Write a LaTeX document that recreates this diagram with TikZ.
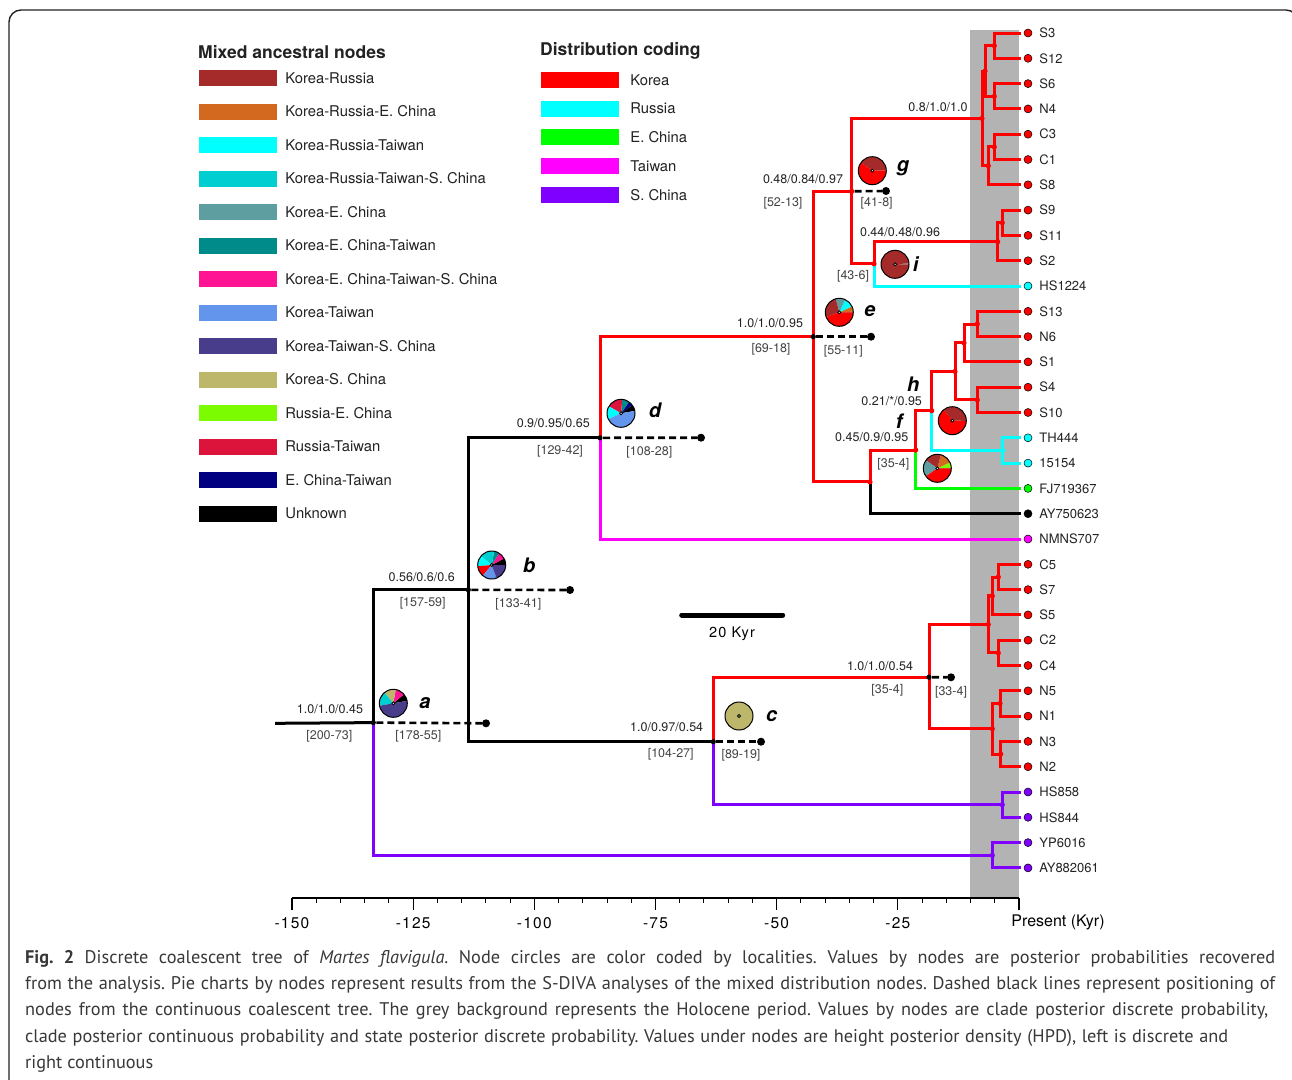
\documentclass[tikz,border=0pt]{standalone}
\usepackage{fontspec}
\setmainfont{TeX Gyre Heros}
\newfontfamily\capfont{PT Sans}
\newfontfamily\axfont[LetterSpace=8]{TeX Gyre Heros}
\usetikzlibrary{positioning}

\definecolor{kru}{HTML}{A52A2A}
\definecolor{krue}{HTML}{D2691E}
\definecolor{krut}{HTML}{00FFFF}
\definecolor{kruts}{HTML}{00CED1}
\definecolor{ke}{HTML}{5F9EA0}
\definecolor{ket}{HTML}{008B8B}
\definecolor{kets}{HTML}{FF1493}
\definecolor{kt}{HTML}{6495ED}
\definecolor{kts}{HTML}{483D8B}
\definecolor{ks}{HTML}{BDB76B}
\definecolor{rue}{HTML}{7CFC00}
\definecolor{rut}{HTML}{DC143C}
\definecolor{et}{HTML}{000080}
\definecolor{korea}{HTML}{FF0000}
\definecolor{russia}{HTML}{00FFFF}
\definecolor{echina}{HTML}{00FF00}
\definecolor{taiwan}{HTML}{FF00FF}
\definecolor{schina}{HTML}{8000FF}
\definecolor{holo}{HTML}{B3B3B3}
\definecolor{ink}{HTML}{222222}

\tikzset{
  br/.style={line width=3pt, line cap=rect},
  tipbr/.style={line width=3pt, line cap=rect, shorten >=4pt},
  cdash/.style={line width=2.6pt, dash pattern=on 7pt off 4pt, black},
  enddot/.style={circle, fill=black, inner sep=0pt, minimum size=8pt},
  tipdot/.style={circle, draw=black, line width=0.5pt, inner sep=0pt, minimum size=8pt},
  tiplab/.style={font=\fontsize{13}{15}\selectfont, text=ink, inner sep=0pt, anchor=west},
  pp/.style={font=\fontsize{12.5}{14}\selectfont, text=ink, inner sep=0pt},
  hpd/.style={font=\fontsize{12.5}{14}\selectfont, text=ink!85, inner sep=0pt},
  plet/.style={font=\fontsize{20}{22}\selectfont\bfseries\itshape, inner sep=0pt},
  swatch/.style={rectangle, inner sep=0pt, minimum width=78pt, minimum height=16pt},
  legtext/.style={font=\fontsize{14.8}{16}\selectfont, text=ink, inner sep=0pt},
  legtitle/.style={font=\fontsize{17.5}{19}\selectfont\bfseries, text=ink, inner sep=0pt, anchor=west},
  axislab/.style={font=\axfont\fontsize{15.5}{17}\selectfont, text=black, inner sep=0pt},
  capline/.style={font=\capfont\fontsize{18.3}{20}\selectfont\frenchspacing, text=ink!90, inner sep=0pt, anchor=base west},
  pieedge/.style={line width=1pt, black}
}

\newcommand{\piechart}[2]{%
  \foreach \pa/\pb/\pc in {#2}{\fill[\pc] (#1) -- ++(\pa:14pt) arc[start angle=\pa, end angle=\pb, radius=14pt] -- cycle;}
  \draw[pieedge] (#1) circle[radius=14pt];
  \draw[line width=0.8pt, fill=white] (#1) circle[radius=1.5pt];
}

\begin{document}
\begin{tikzpicture}[x=1pt,y=-1pt]
  \useasboundingbox (0,0) rectangle (1292,1079);
  \clip (0,0) rectangle (1292,1079);
  \draw[line width=1.4pt, ink, rounded corners=12pt] (9,1100) -- (9,10) -- (1298,10) -- (1298,1100);

  % holocene band and time axis
  \fill[holo] (970,30) rectangle (1019,898);
  \draw[line width=1.2pt] (292,898) -- (1019,898);
  \foreach \t in {0,5,...,150} \draw[line width=1pt] (1019-4.847*\t,898) -- ++(0,5);
  \foreach \t in {0,25,...,150} \draw[line width=1.2pt] (1019-4.847*\t,898) -- ++(0,12);
  \foreach \t in {150,125,100,75,50,25} \node[axislab] at (1019-4.847*\t,923) {-\t};
  \node[axislab, font=\fontsize{16}{18}\selectfont] at (1058,922) {Present (Kyr)};

  % legends
  \node[legtitle] at (198,52) {Mixed ancestral nodes};
  \foreach \col/\txt [count=\k from 0] in {kru/Korea-Russia, krue/Korea-Russia-E. China,
      krut/Korea-Russia-Taiwan, kruts/Korea-Russia-Taiwan-S. China, ke/Korea-E. China,
      ket/Korea-E. China-Taiwan, kets/Korea-E. China-Taiwan-S. China, kt/Korea-Taiwan,
      kts/Korea-Taiwan-S. China, ks/Korea-S. China, rue/Russia-E. China, rut/Russia-Taiwan,
      et/E. China-Taiwan, black/Unknown}{
    \node[swatch, fill=\col] (m\k) at (238,78+33.5*\k) {};
    \node[legtext, right=8pt of m\k] {\txt};
  }
  \node[legtitle] at (540,51) {Distribution coding};
  \foreach \col/\txt [count=\k from 0] in {korea/Korea, russia/Russia, echina/E. China,
      taiwan/Taiwan, schina/S. China}{
    \node[swatch, fill=\col] (dc\k) at (580,80+28.7*\k) {};
    \node[legtext, right=11pt of dc\k] {\txt};
  }

  % tips
  \foreach \n/\t/\c [count=\i from 0] in {S3/S3/korea, S12/S12/korea, S6/S6/korea, N4/N4/korea,
      C3/C3/korea, C1/C1/korea, S8/S8/korea, S9/S9/korea, S11/S11/korea, S2/S2/korea,
      HS1224/HS1224/russia, S13/S13/korea, N6/N6/korea, S1/S1/korea, S4/S4/korea, S10/S10/korea,
      TH444/TH444/russia, t15154/15154/russia, FJ719367/FJ719367/echina, AY750623/AY750623/black,
      NMNS707/NMNS707/taiwan, C5/C5/korea, S7/S7/korea, S5/S5/korea, C2/C2/korea, C4/C4/korea,
      N5/N5/korea, N1/N1/korea, N3/N3/korea, N2/N2/korea, HS858/HS858/schina, HS844/HS844/schina,
      YP6016/YP6016/schina, AY882061/AY882061/schina}{
    \node[tipdot, fill=\c] (\n) at (1028,33+25.3*\i) {};
    \node[tiplab, right=7pt of \n] {\t};
  }

  % internal nodes
  \coordinate (root) at (276.7,723.3);
  \coordinate (a) at (373.3,722.6);
  \coordinate (b) at (468.3,589.8);
  \coordinate (c) at (713.3,741.7);
  \coordinate (d) at (600,437.8);
  \coordinate (e) at (813.3,336.7);
  \coordinate (g) at (851.7,191.3);
  \coordinate (i) at (874,263.8);
  \coordinate (fp) at (870,481.9);
  \coordinate (f) at (915.7,450.1);
  \coordinate (h) at (931.7,410.7);
  \coordinate (cc) at (929,677.2);
  \coordinate (n1) at (994.3,45.7);
  \coordinate (n2) at (994.3,96.3);
  \coordinate (n3) at (985,71);
  \coordinate (n4) at (994.3,146.9);
  \coordinate (n5) at (988.3,165.8);
  \coordinate (n6) at (982,118.4);
  \coordinate (n7) at (1002.3,222.8);
  \coordinate (n8) at (997.7,241.7);
  \coordinate (n9) at (977.3,324);
  \coordinate (n10) at (964,342.9);
  \coordinate (n11) at (955,371.4);
  \coordinate (n12) at (1002.7,450.5);
  \coordinate (n13) at (977.3,399.9);
  \coordinate (n14) at (998.3,577);
  \coordinate (n15) at (992.3,595.9);
  \coordinate (n16) at (988.3,624.4);
  \coordinate (n17) at (998.3,652.9);
  \coordinate (n18) at (1000,703.5);
  \coordinate (n19) at (992.3,728.8);
  \coordinate (n18b) at (1000.7,754.1);
  \coordinate (n20) at (1002.3,804.7);
  \coordinate (n21) at (992.3,855.3);

  % branches
  \draw[br] (root) -- (a);
  \foreach \p/\q/\c in {a/b/black, b/d/black, b/c/black, a/n21/schina, c/n20/schina, h/n12/russia,
      d/e/korea, e/g/korea, e/fp/korea, g/n6/korea, g/i/korea, i/n8/korea, n8/n7/korea,
      n6/n3/korea, n6/n5/korea, n3/n1/korea, n3/n2/korea, n5/n4/korea,
      fp/f/korea, f/h/korea, h/n11/korea, n11/n10/korea, n11/n13/korea, n10/n9/korea,
      c/cc/korea, cc/n16/korea, cc/n19/korea, n16/n15/korea, n16/n17/korea, n15/n14/korea,
      n19/n18/korea, n19/n18b/korea}
    \draw[br, \c] (\p) |- (\q);
  \foreach \p/\q/\c in {n1/S3/korea, n1/S12/korea, n2/S6/korea, n2/N4/korea, n4/C3/korea,
      n4/C1/korea, n5/S8/korea, n7/S9/korea, n7/S11/korea, n8/S2/korea, i/HS1224/russia,
      n9/S13/korea, n9/N6/korea, n10/S1/korea, n13/S4/korea, n13/S10/korea,
      n12/TH444/russia, n12/t15154/russia, f/FJ719367/echina, fp/AY750623/black,
      d/NMNS707/taiwan, n14/C5/korea, n14/S7/korea, n15/S5/korea, n17/C2/korea, n17/C4/korea,
      n18/N5/korea, n18/N1/korea, n18b/N3/korea, n18b/N2/korea,
      n20/HS858/schina, n20/HS844/schina, n21/YP6016/schina, n21/AY882061/schina}
    \draw[tipbr, \c] (\p) |- (\q);
  \foreach \p/\c in {a/black, b/black, c/black, d/black, e/black, cc/black, g/korea, i/korea,
      fp/korea, f/korea, h/korea, n1/korea, n2/korea, n3/korea, n4/korea, n5/korea, n6/korea,
      n7/korea, n8/korea, n9/korea, n10/korea, n11/korea, n12/russia, n13/korea, n14/korea,
      n15/korea, n16/korea, n17/korea, n18/korea, n18b/korea, n19/korea, n20/schina, n21/schina}
    \fill[\c] (\p) circle[radius=2.6pt];

  % continuous tree positions
  \node[enddot] (ad) at (486,723.3) {};
  \node[enddot] (bd) at (570,590) {};
  \node[enddot] (dd) at (701,437.7) {};
  \node[enddot] (ed) at (871,336.7) {};
  \node[enddot] (gd) at (886,191) {};
  \node[enddot] (cd) at (761,741.7) {};
  \node[enddot] (ccd) at (951,677.3) {};
  \foreach \p in {a,b,d,e,g,c,cc} \draw[cdash] ([xshift=3pt]\p) -- (\p d);

  % node values
  \node[pp] at (330,709.3) {1.0/1.0/0.45};
  \node[hpd] at (329.3,736.7) {[200-73]};
  \node[hpd] at (418.3,736.7) {[178-55]};
  \node[pp] at (421.7,576.7) {0.56/0.6/0.6};
  \node[hpd] at (422.7,603.3) {[157-59]};
  \node[hpd] at (518.3,604) {[133-41]};
  \node[pp] at (553.3,423.3) {0.9/0.95/0.65};
  \node[hpd] at (560,451.7) {[129-42]};
  \node[hpd] at (649.3,452.7) {[108-28]};
  \node[pp] at (770,323.3) {1.0/1.0/0.95};
  \node[hpd] at (771,349.3) {[69-18]};
  \node[hpd] at (843.3,351) {[55-11]};
  \node[pp] at (803,179) {0.48/0.84/0.97};
  \node[hpd] at (783,203) {[52-13]};
  \node[hpd] at (876.7,203) {[41-8]};
  \node[pp] at (900,231.7) {0.44/0.48/0.96};
  \node[hpd] at (853,276) {[43-6]};
  \node[pp] at (938,107) {0.8/1.0/1.0};
  \node[pp] at (891.7,401.5) {0.21/*/0.95};
  \node[pp] at (871.7,437.5) {0.45/0.9/0.95};
  \node[hpd] at (893.3,464.3) {[35-4]};
  \node[pp] at (666.7,727.3) {1.0/0.97/0.54};
  \node[hpd] at (670.7,754) {[104-27]};
  \node[hpd] at (741,755) {[89-19]};
  \node[pp] at (880,666) {1.0/1.0/0.54};
  \node[hpd] at (887.3,690) {[35-4]};
  \node[hpd] at (951,692.7) {[33-4]};

  % pies
  \piechart{393.3,703.3}{10/40/black, 40/80/kets, 80/130/ks, 130/190/kruts, 190/370/kts}
  \piechart{491.7,565}{0/28/black, 28/58/kets, 58/80/ket, 80/140/kruts, 140/185/krut, 185/230/korea, 230/290/kt, 290/360/kts}
  \piechart{621,413.3}{10/35/black, 35/55/et, 55/85/ket, 85/150/rut, 150/205/krut, 205/370/kt}
  \piechart{839.3,312.3}{0/3/black, 3/25/krue, 25/65/krut, 65/105/ke, 105/200/kru, 200/360/korea}
  \piechart{872.3,170.7}{0/145/kru, 145/360/korea}
  \piechart{895,264.3}{0/4/ke, 4/360/kru}
  \piechart{952.3,420.7}{0/3/black, 3/128/kru, 128/360/korea}
  \piechart{937.3,468.3}{0/3/black, 3/25/rue, 25/75/krue, 75/145/kru, 145/215/ke, 215/360/korea}
  \piechart{739,716}{0/360/ks}
  \foreach \l/\x/\y in {a/425/702.7, b/529.3/565, d/655/410, e/870/310.7, g/903/168,
      i/915.7/264.3, h/913.3/384.5, f/899.3/421.5, c/771.7/716}
    \node[plet] at (\x,\y) {\l};

  % scale bar
  \coordinate (sb1) at (681.7,615);
  \coordinate (sb2) at (782.7,615);
  \draw[line width=5pt, line cap=round] (sb1) -- (sb2);
  \node[axislab, font=\axfont\fontsize{14.5}{16}\selectfont] at (732,633.3) {20 Kyr};

  % caption
  \node[capline] at (25,963) {\makebox[1250pt][s]{\textbf{Fig. 2} Discrete coalescent tree of \textit{Martes flavigula}. Node circles are color coded by localities. Values by nodes are posterior probabilities recovered}};
  \node[capline] at (25,989) {\makebox[1250pt][s]{from the analysis. Pie charts by nodes represent results from the S-DIVA analyses of the mixed distribution nodes. Dashed black lines represent positioning of}};
  \node[capline] at (25,1015) {\makebox[1243pt][s]{nodes from the continuous coalescent tree. The grey background represents the Holocene period. Values by nodes are clade posterior discrete probability,}};
  \node[capline] at (25,1042) {\makebox[1203pt][s]{clade posterior continuous probability and state posterior discrete probability. Values under nodes are height posterior density (HPD), left is discrete and}};
  \node[capline] at (25,1068) {right continuous};
\end{tikzpicture}
\end{document}
